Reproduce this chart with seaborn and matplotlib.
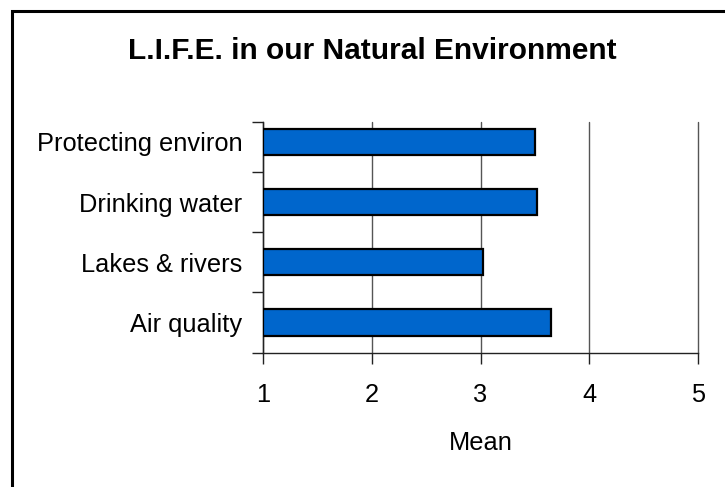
import matplotlib
matplotlib.use("Agg")
import matplotlib.pyplot as plt
import matplotlib.patches as mpatches
import seaborn as sns
import pandas as pd

categories = ["Protecting environ", "Drinking water", "Lakes & rivers", "Air quality"]
means = [3.50, 3.52, 3.02, 3.65]
x_ticks = [1, 2, 3, 4, 5]
title = "L.I.F.E. in our Natural Environment"
x_label = "Mean"

sns.set_theme(style="white")
plt.rcParams["font.family"] = ["Liberation Sans", "DejaVu Sans"]
plt.rcParams["text.color"] = "black"
plt.rcParams["axes.labelcolor"] = "black"
plt.rcParams["xtick.color"] = "black"
plt.rcParams["ytick.color"] = "black"

df = pd.DataFrame({"category": categories, "mean": means})

fig = plt.figure(figsize=(7.25, 4.87), dpi=100)
ax = fig.add_axes([263 / 725, 1 - 352.5 / 487, (698 - 263) / 725, (352.5 - 122) / 487])

sns.barplot(data=df, y="category", x="mean", orient="h", color="#0066CC",
            saturation=1, width=0.44, edgecolor="black", linewidth=1.6, ax=ax, zorder=3)

# bars start at the axis origin (1)
for p in ax.patches:
    w = p.get_width()
    p.set_x(1)
    p.set_width(w - 1)

ax.set_xlim(1, 5)
ax.set_ylim(3.5, -0.33)
ax.set_xticks(x_ticks)
ax.set_xticklabels([str(t) for t in x_ticks], fontsize=18.3, color="black")
ax.tick_params(axis="x", direction="out", length=8, width=1, color="#222222", pad=14, bottom=True)

ax.set_yticks(range(len(categories)))
ax.set_yticklabels(categories, fontsize=18.3, color="black")
ax.tick_params(axis="y", which="major", length=0, pad=15)
ax.set_yticks([3.5, 2.5, 1.5, 0.5, -0.33], minor=True)
ax.tick_params(axis="y", which="minor", direction="out", length=8, width=1, color="#222222", left=True)

ax.grid(axis="x", color="#555555", linewidth=1, zorder=0)
ax.grid(axis="y", visible=False)
for gl in ax.get_xgridlines():
    gl.set_clip_on(False)
ax.set_axisbelow(True)
for s in ["top", "right"]:
    ax.spines[s].set_visible(False)
for s in ["left", "bottom"]:
    ax.spines[s].set_visible(True)
    ax.spines[s].set_color("#222222")
    ax.spines[s].set_linewidth(1)

ax.set_xlabel(x_label, fontsize=18.3, labelpad=17, color="black")
ax.set_ylabel("")

fig.text(372 / 725, 1 - 51 / 487, title, ha="center", va="center",
         fontsize=21.5, fontweight="bold", color="black")

border = mpatches.Rectangle((12 / 725, -0.1), 1.2, 1 - 11 / 487 + 0.1, transform=fig.transFigure,
                            fill=False, edgecolor="black", linewidth=2.2, clip_on=False)
fig.patches.append(border)

fig.savefig("out.png", dpi=100, facecolor="white")
